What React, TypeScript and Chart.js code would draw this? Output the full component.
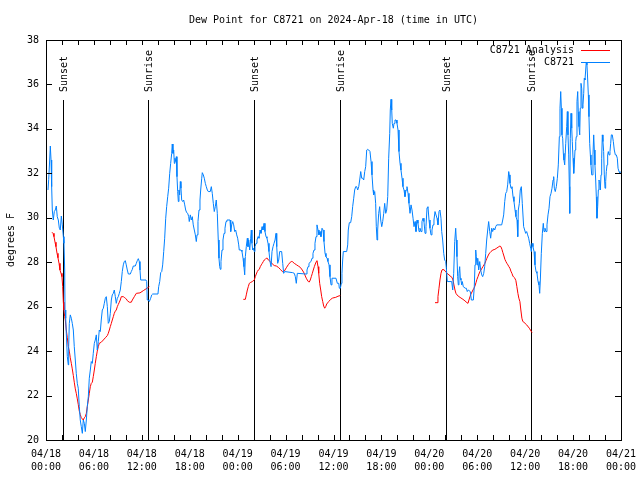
import React, { useEffect, useRef } from "react";
import { Chart, registerables } from "chart.js";

Chart.register(...registerables);

const FONT = '"DejaVu Sans Mono", "Liberation Mono", monospace';

const chartTitle = "Dew Point for C8721 on 2024-Apr-18 (time in UTC)";
const yAxisTitle = "degrees F";
const stationName = "C8721";
const analysisName = "C8721 Analysis";

// x tick labels (every 6 hours from 04/18 00:00 UTC)
const xTickDates = ["04/18", "04/18", "04/18", "04/18", "04/19", "04/19", "04/19", "04/19", "04/20", "04/20", "04/20", "04/20", "04/21"];
const xTickTimes = ["00:00", "06:00", "12:00", "18:00", "00:00", "06:00", "12:00", "18:00", "00:00", "06:00", "12:00", "18:00", "00:00"];

// sunset / sunrise times (hours since 04/18 00:00 UTC)
const sunEvents: [string, number][] = [
  ["Sunset", 2.17],
  ["Sunrise", 12.81],
  ["Sunset", 26.09],
  ["Sunrise", 36.85],
  ["Sunset", 50.13],
  ["Sunrise", 60.77],
];

// station observations: [hours since 04/18 00:00 UTC, dew point °F]
const stationObs: [number, number][] = [
  [0.25, 31.25], [0.34, 31.73], [0.46, 32.6], [0.54, 33.23], [0.63, 32.6], [0.71, 31.4], [0.79, 30.35], [0.91, 29.9],
  [1.04, 30.28], [1.16, 30.35], [1.29, 30.53], [1.41, 30.05], [1.54, 29.9], [1.67, 29.53], [1.79, 29.45], [1.92, 30.08],
  [2.04, 29.68], [2.17, 29.15], [2.25, 28.85], [2.34, 27.65], [2.38, 25.85], [2.47, 25.48], [2.54, 24.8], [2.67, 23.75],
  [2.79, 23.38], [2.84, 24.2], [2.92, 25.25], [3.04, 25.63], [3.17, 25.48], [3.29, 25.25], [3.42, 24.95], [3.54, 24.2],
  [3.67, 23.6], [3.79, 23.0], [3.92, 22.55], [4.04, 22.33], [4.17, 21.5], [4.29, 20.9], [4.42, 20.6], [4.55, 20.3],
  [4.67, 20.9], [4.8, 20.75], [4.92, 20.38], [5.05, 20.9], [5.17, 21.5], [5.3, 21.95], [5.42, 22.78], [5.55, 23.15],
  [5.67, 23.53], [5.8, 23.45], [5.92, 23.9], [6.05, 24.35], [6.17, 24.5], [6.3, 24.73], [6.42, 24.05], [6.55, 24.43],
  [6.67, 24.95], [6.8, 24.88], [6.92, 25.4], [7.05, 25.85], [7.18, 25.93], [7.3, 26.15], [7.43, 26.38], [7.55, 26.45],
  [7.68, 26.0], [7.8, 25.25], [7.93, 25.33], [8.05, 25.7], [8.18, 26.3], [8.3, 26.53], [8.43, 26.6], [8.55, 26.75],
  [8.68, 26.45], [8.8, 26.15], [8.93, 26.38], [9.05, 26.45], [9.18, 26.6], [9.3, 26.75], [9.43, 27.13], [9.55, 27.58],
  [9.68, 27.88], [9.8, 28.03], [9.93, 28.07], [10.05, 27.88], [10.18, 27.65], [10.31, 27.47], [10.56, 27.47], [10.68, 27.58],
  [10.81, 27.68], [10.93, 27.83], [11.18, 27.83], [11.31, 27.95], [11.43, 28.07], [11.56, 28.16], [11.68, 28.03], [11.77, 27.65],
  [11.86, 27.2], [12.52, 27.2], [12.61, 27.13], [12.68, 26.3], [12.81, 26.3], [12.94, 26.23], [13.11, 26.38], [13.24, 26.53],
  [13.36, 26.57], [14.02, 26.57], [14.11, 26.9], [14.24, 27.13], [14.36, 27.53], [14.49, 27.58], [14.61, 27.88], [14.74, 28.48],
  [14.86, 29.08], [14.99, 29.98], [15.11, 30.5], [15.24, 30.95], [15.36, 31.33], [15.49, 32.0], [15.61, 32.45], [15.74, 32.9],
  [15.81, 33.32], [15.9, 32.9], [15.99, 33.05], [16.07, 32.45], [16.15, 32.68], [16.24, 32.53], [16.32, 32.75], [16.4, 31.85],
  [16.49, 31.18], [16.57, 30.73], [16.65, 31.25], [16.74, 31.03], [16.82, 31.63], [16.9, 31.33], [16.99, 30.8], [17.12, 30.73],
  [17.24, 30.8], [17.37, 30.58], [17.49, 30.35], [17.62, 30.23], [17.74, 30.2], [17.87, 30.05], [17.94, 29.83], [18.07, 30.13],
  [18.19, 29.9], [18.32, 30.05], [18.44, 29.68], [18.57, 29.45], [18.7, 29.23], [18.82, 28.93], [18.91, 29.23], [19.03, 29.83],
  [19.16, 30.35], [19.28, 30.8], [19.37, 31.25], [19.5, 31.78], [19.57, 32.03], [19.7, 31.93], [19.82, 31.78], [19.95, 31.55],
  [20.07, 31.4], [20.2, 31.25], [20.32, 31.18], [20.57, 31.18], [20.7, 31.4], [20.82, 31.1], [20.95, 30.65], [21.07, 30.28],
  [21.2, 30.5], [21.32, 30.8], [21.45, 30.2], [21.57, 29.0], [21.66, 28.18], [21.75, 27.8], [21.83, 27.68], [21.91, 28.03],
  [22.04, 28.55], [22.16, 29.0], [22.29, 29.3], [22.41, 29.53], [22.54, 29.83], [22.66, 29.9], [23.04, 29.9], [23.13, 29.38],
  [23.25, 29.68], [23.38, 29.83], [23.5, 29.68], [23.63, 29.38], [23.75, 29.45], [23.88, 29.23], [24.0, 29.08], [24.13, 28.78],
  [24.2, 28.55], [24.29, 28.55], [24.42, 28.55], [24.54, 28.48], [24.67, 28.18], [24.79, 27.8], [24.88, 27.43], [24.96, 28.25],
  [25.08, 28.7], [25.21, 29.08], [25.29, 28.7], [25.38, 29.0], [25.51, 28.55], [25.63, 29.08], [25.71, 29.45], [25.79, 28.85],
  [25.88, 28.55], [25.96, 28.63], [26.08, 28.48], [26.17, 28.7], [26.3, 28.85], [26.42, 29.0], [26.55, 29.15], [26.67, 29.08],
  [26.8, 29.45], [26.92, 29.3], [27.05, 29.6], [27.17, 29.45], [27.3, 29.75], [27.42, 29.38], [27.55, 29.15], [27.67, 29.08],
  [27.8, 28.85], [27.92, 28.48], [28.05, 28.03], [28.18, 27.8], [28.3, 28.48], [28.43, 28.7], [28.55, 28.85], [28.68, 29.0],
  [28.8, 29.3], [28.89, 28.7], [29.01, 27.95], [29.14, 28.1], [29.26, 28.48], [29.51, 28.48], [29.64, 27.95], [29.76, 27.5],
  [29.89, 27.58], [30.89, 27.53], [31.09, 27.5], [31.22, 27.35], [31.34, 27.05], [31.47, 27.5], [32.56, 27.47], [32.68, 27.65],
  [32.81, 27.8], [32.93, 27.95], [33.18, 28.03], [33.31, 28.18], [33.43, 28.4], [33.56, 28.55], [33.68, 28.85], [33.81, 29.15],
  [33.93, 29.68], [34.06, 29.45], [34.18, 29.23], [34.31, 29.38], [34.43, 29.15], [34.56, 29.53], [34.69, 29.45], [34.81, 28.93],
  [34.94, 28.4], [35.06, 28.25], [35.19, 28.18], [35.31, 28.03], [35.44, 27.88], [35.56, 27.35], [35.69, 26.98], [35.81, 27.28],
  [36.31, 27.28], [36.48, 27.05], [36.66, 27.05], [36.73, 26.83], [36.86, 26.83], [36.98, 27.05], [37.06, 27.5], [37.15, 28.1],
  [37.23, 28.48], [37.65, 28.48], [37.78, 28.78], [37.85, 29.45], [37.98, 29.78], [38.15, 29.78], [38.28, 30.05], [38.4, 30.5],
  [38.53, 30.88], [38.65, 31.25], [38.78, 31.4], [38.9, 31.4], [39.03, 31.25], [39.16, 31.4], [39.28, 31.7], [39.41, 32.08],
  [39.53, 31.78], [39.66, 31.78], [39.78, 31.7], [39.91, 32.08], [40.03, 32.3], [40.16, 33.05], [40.28, 33.08], [40.41, 33.05],
  [40.57, 32.98], [40.7, 32.53], [40.82, 31.93], [40.95, 31.25], [41.03, 31.03], [41.16, 31.18], [41.28, 30.65], [41.36, 29.6],
  [41.45, 29.0], [41.53, 29.45], [41.66, 30.2], [41.78, 30.5], [41.91, 29.9], [42.04, 29.6], [42.16, 29.83], [42.29, 30.2],
  [42.41, 30.65], [42.54, 30.2], [42.66, 30.35], [42.79, 30.95], [42.91, 32.68], [43.04, 33.8], [43.11, 34.85], [43.2, 35.33],
  [43.29, 34.85], [43.36, 34.25], [43.49, 34.03], [43.58, 34.25], [43.7, 34.4], [43.83, 34.4], [43.95, 34.25], [44.08, 33.95],
  [44.2, 32.98], [44.33, 32.45], [44.45, 32.15], [44.58, 31.78], [44.7, 31.4], [44.83, 31.25], [44.95, 30.95], [45.08, 31.25],
  [45.2, 31.4], [45.33, 31.1], [45.45, 30.65], [45.58, 30.2], [45.71, 30.58], [45.83, 30.35], [45.96, 29.98], [46.08, 29.6],
  [46.21, 29.83], [46.33, 29.38], [46.46, 29.9], [46.58, 29.75], [46.71, 29.38], [46.83, 29.53], [46.96, 29.38], [47.08, 29.83],
  [47.21, 29.98], [47.33, 29.83], [47.46, 29.3], [47.58, 29.6], [47.71, 30.45], [47.83, 30.5], [47.96, 29.9], [48.08, 29.53],
  [48.21, 29.23], [48.33, 29.45], [48.46, 29.68], [48.58, 29.9], [48.71, 30.28], [48.83, 30.28], [48.96, 29.98], [49.08, 29.68],
  [49.21, 30.28], [49.33, 30.35], [49.46, 29.98], [49.55, 29.38], [49.67, 29.0], [49.8, 28.4], [49.92, 28.1], [50.05, 28.03],
  [50.13, 27.73], [50.25, 27.13], [50.8, 27.13], [50.93, 26.75], [51.05, 27.5], [51.18, 28.93], [51.3, 29.53], [51.38, 29.0],
  [51.46, 28.25], [51.55, 27.35], [51.63, 26.98], [51.71, 27.5], [51.8, 27.8], [51.88, 27.28], [51.96, 27.2], [52.05, 26.98],
  [52.13, 27.13], [52.25, 26.9], [52.5, 26.83], [52.63, 26.83], [52.75, 26.68], [52.88, 26.75], [53.13, 26.68], [53.26, 26.3],
  [53.51, 26.3], [53.63, 26.9], [53.72, 27.88], [53.81, 28.55], [53.88, 28.25], [53.97, 27.88], [54.06, 28.18], [54.18, 27.65],
  [54.31, 28.03], [54.43, 27.65], [54.56, 27.43], [54.68, 27.35], [54.81, 27.5], [54.93, 27.8], [55.06, 28.4], [55.18, 29.0],
  [55.31, 29.45], [55.43, 29.83], [55.56, 29.38], [55.68, 29.08], [55.81, 29.53], [55.93, 29.38], [56.06, 29.53], [56.19, 29.45],
  [56.31, 29.6], [56.44, 29.68], [57.06, 29.68], [57.19, 29.9], [57.31, 30.13], [57.44, 30.73], [57.56, 31.1], [57.69, 31.18],
  [57.81, 31.48], [57.94, 32.08], [58.01, 31.93], [58.1, 31.55], [58.23, 31.33], [58.35, 31.4], [58.48, 30.95], [58.6, 30.73],
  [58.73, 30.35], [58.85, 30.05], [58.98, 29.9], [59.07, 29.15], [59.14, 30.35], [59.27, 30.65], [59.39, 31.25], [59.52, 31.4],
  [59.64, 30.65], [59.81, 29.6], [59.94, 29.45], [60.06, 29.3], [60.19, 29.38], [60.31, 29.23], [60.44, 29.08], [60.56, 28.85],
  [60.69, 28.63], [60.77, 28.48], [60.86, 28.85], [60.98, 28.7], [61.11, 28.48], [61.23, 27.88], [61.36, 27.58], [61.48, 27.5],
  [61.61, 27.13], [61.73, 26.98], [61.82, 26.6], [61.9, 27.2], [62.02, 28.4], [62.15, 29.3], [62.27, 29.75], [62.36, 29.38],
  [62.48, 29.53], [62.61, 29.38], [62.73, 29.68], [62.86, 30.13], [62.99, 30.43], [63.11, 30.95], [63.24, 31.1], [63.36, 31.33],
  [63.49, 31.7], [63.57, 31.85], [63.65, 31.33], [63.77, 31.18], [63.9, 31.4], [64.03, 31.78], [64.15, 32.38], [64.28, 33.65],
  [64.36, 34.93], [64.45, 35.68], [64.53, 34.93], [64.61, 33.73], [64.7, 33.58], [64.78, 32.9], [64.86, 32.6], [64.95, 32.38],
  [65.08, 33.35], [65.2, 34.1], [65.28, 34.78], [65.36, 33.73], [65.45, 32.83], [65.53, 31.4], [65.58, 30.2], [65.65, 33.58],
  [65.74, 34.7], [65.83, 34.03], [65.9, 33.43], [65.99, 32.68], [66.08, 32.0], [66.15, 32.38], [66.24, 33.05], [66.33, 33.43],
  [66.4, 33.65], [66.49, 35.23], [66.58, 35.68], [66.65, 34.78], [66.74, 34.1], [66.83, 33.73], [66.9, 34.93], [66.99, 36.05],
  [67.08, 35.83], [67.15, 34.93], [67.24, 35.08], [67.33, 35.6], [67.4, 36.28], [67.49, 36.2], [67.58, 36.65], [67.65, 37.0],
  [67.74, 36.88], [67.83, 36.2], [67.91, 35.53], [67.99, 34.55], [68.08, 33.35], [68.16, 32.83], [68.24, 32.38], [68.33, 31.93],
  [68.41, 31.93], [68.49, 32.83], [68.58, 33.73], [68.66, 33.05], [68.74, 32.38], [68.83, 31.7], [68.91, 30.95], [68.99, 29.98],
  [69.08, 30.5], [69.16, 31.25], [69.24, 31.7], [69.33, 31.63], [69.41, 31.25], [69.5, 31.93], [69.58, 32.68], [69.66, 33.73],
  [69.74, 33.43], [69.83, 32.98], [69.91, 31.93], [70.0, 31.33], [70.08, 31.63], [70.16, 32.08], [70.25, 32.38], [70.33, 32.83],
  [70.41, 32.98], [70.5, 32.83], [70.62, 32.98], [70.71, 33.35], [70.79, 33.73], [70.91, 33.73], [71.04, 33.43], [71.16, 33.05],
  [71.29, 32.83], [71.41, 32.83], [71.54, 32.68], [71.63, 32.23], [71.75, 32.08], [71.87, 32.0],
];

// analysis, night 1
const analysisNight1: [number, number][] = [
  [0.75, 29.35], [0.88, 29.3], [1.0, 29.15], [1.13, 28.9], [1.25, 28.7], [1.38, 28.4], [1.5, 28.2], [1.63, 27.95],
  [1.75, 27.65], [1.88, 27.5], [2.0, 27.35], [2.09, 26.9], [2.17, 26.2], [2.25, 25.85], [2.34, 25.55], [2.42, 25.4],
  [2.54, 24.95], [2.67, 24.6], [2.79, 24.2], [2.92, 24.0], [3.04, 23.7], [3.17, 23.45], [3.29, 23.2], [3.42, 22.9],
  [3.54, 22.6], [3.67, 22.3], [3.79, 22.1], [3.92, 21.85], [4.04, 21.6], [4.17, 21.3], [4.29, 21.15], [4.42, 21.0],
  [4.55, 20.95], [4.67, 20.9], [4.8, 21.0], [4.92, 21.05], [5.05, 21.2], [5.17, 21.5], [5.3, 21.8], [5.42, 22.1],
  [5.55, 22.4], [5.67, 22.55], [5.8, 22.6], [5.92, 22.85], [6.05, 23.15], [6.17, 23.45], [6.3, 23.75], [6.42, 24.0],
  [6.55, 24.2], [6.67, 24.35], [6.92, 24.4], [7.18, 24.5], [7.43, 24.6], [7.68, 24.7], [7.8, 24.8], [7.93, 24.95],
  [8.05, 25.1], [8.18, 25.25], [8.3, 25.4], [8.43, 25.55], [8.55, 25.7], [8.68, 25.8], [8.8, 25.85], [8.93, 26.0],
  [9.05, 26.1], [9.18, 26.2], [9.3, 26.3], [9.43, 26.45], [9.68, 26.45], [9.8, 26.42], [9.93, 26.38], [10.05, 26.35],
  [10.18, 26.27], [10.43, 26.2], [10.68, 26.2], [10.81, 26.3], [11.06, 26.45], [11.31, 26.6], [11.77, 26.62], [12.18, 26.72],
  [12.52, 26.8], [12.94, 26.9],
];

// analysis, night 2
const analysisNight2: [number, number][] = [
  [24.71, 26.33], [24.96, 26.33], [25.08, 26.53], [25.21, 26.75], [25.33, 26.9], [25.46, 27.05], [25.58, 27.08], [25.83, 27.13],
  [26.08, 27.2], [26.21, 27.35], [26.33, 27.47], [26.46, 27.58], [26.58, 27.65], [26.71, 27.68], [26.83, 27.8], [26.96, 27.88],
  [27.08, 27.95], [27.21, 28.03], [27.33, 28.1], [27.46, 28.13], [27.58, 28.18], [27.71, 28.18], [27.84, 28.1], [28.09, 28.03],
  [28.34, 27.92], [28.59, 27.85], [28.84, 27.83], [29.09, 27.77], [29.34, 27.68], [29.59, 27.58], [29.71, 27.56], [29.84, 27.6],
  [30.09, 27.75], [30.34, 27.89], [30.59, 28.0], [30.71, 28.03], [30.84, 28.03], [31.09, 27.95], [31.34, 27.89], [31.59, 27.83],
  [31.84, 27.77], [32.09, 27.65], [32.34, 27.5], [32.47, 27.38], [32.59, 27.28], [32.72, 27.2], [32.84, 27.13], [32.97, 27.11],
  [33.09, 27.2], [33.22, 27.35], [33.35, 27.5], [33.47, 27.65], [33.6, 27.8], [33.72, 27.92], [33.85, 28.03], [33.93, 28.07],
  [34.06, 27.8], [34.15, 27.5], [34.27, 27.05], [34.4, 26.75], [34.52, 26.45], [34.65, 26.23], [34.77, 26.03], [34.9, 25.93],
  [35.02, 26.0], [35.15, 26.12], [35.4, 26.23], [35.65, 26.33], [35.9, 26.39], [36.28, 26.42], [36.56, 26.47], [36.85, 26.5],
];

// analysis, night 3
const analysisNight3: [number, number][] = [
  [48.71, 26.18], [48.96, 26.18], [49.08, 26.45], [49.21, 26.83], [49.33, 27.2], [49.46, 27.5], [49.58, 27.65], [49.71, 27.68],
  [49.96, 27.62], [50.21, 27.5], [50.46, 27.43], [50.71, 27.35], [50.83, 27.32], [50.96, 27.2], [51.08, 26.98], [51.21, 26.75],
  [51.33, 26.6], [51.46, 26.53], [51.71, 26.45], [51.96, 26.39], [52.21, 26.33], [52.46, 26.26], [52.71, 26.18], [52.84, 26.15],
  [52.96, 26.3], [53.09, 26.45], [53.21, 26.57], [53.34, 26.66], [53.46, 26.75], [53.59, 26.83], [53.71, 26.93], [53.84, 27.08],
  [53.96, 27.23], [54.09, 27.35], [54.21, 27.47], [54.34, 27.58], [54.46, 27.65], [54.59, 27.73], [54.71, 27.8], [54.84, 27.88],
  [54.96, 27.95], [55.09, 28.07], [55.21, 28.18], [55.34, 28.28], [55.46, 28.37], [55.59, 28.43], [55.71, 28.48], [55.96, 28.55],
  [56.21, 28.58], [56.46, 28.64], [56.71, 28.7], [56.84, 28.73], [56.96, 28.7], [57.09, 28.58], [57.21, 28.43], [57.34, 28.28],
  [57.46, 28.13], [57.59, 28.03], [57.71, 27.95], [57.84, 27.88], [57.96, 27.8], [58.09, 27.73], [58.21, 27.6], [58.34, 27.5],
  [58.46, 27.38], [58.59, 27.32], [58.71, 27.28], [58.84, 27.17], [58.96, 26.9], [59.09, 26.6], [59.21, 26.38], [59.34, 26.23],
  [59.46, 25.85], [59.59, 25.48], [59.71, 25.33], [59.84, 25.3], [60.19, 25.18], [60.52, 25.03], [60.86, 24.83],
];

const STATION_COLOR = "rgb(0,128,255)";
const ANALYSIS_COLOR = "rgb(255,0,0)";

const toPoints = (arr: [number, number][]) => arr.map(([h, v]) => ({ x: h, y: v as number | null }));

const decorations = {
  id: "gnuplotDecorations",
  beforeDatasetsDraw(chart: any) {
    const { ctx, chartArea: a, scales } = chart;
    const x = scales.x;
    ctx.save();
    ctx.strokeStyle = "#000";
    ctx.fillStyle = "#000";
    ctx.lineWidth = 1;
    ctx.font = `10px ${FONT}`;
    const lineTop = a.bottom - 0.85 * (a.bottom - a.top);
    const labelStart = a.bottom - 0.87 * (a.bottom - a.top);
    sunEvents.forEach(([label, h]) => {
      const px = Math.round(x.getPixelForValue(h)) + 0.5;
      ctx.beginPath();
      ctx.moveTo(px, a.bottom);
      ctx.lineTo(px, Math.round(lineTop));
      ctx.stroke();
      ctx.save();
      ctx.translate(px + 1, labelStart);
      ctx.rotate(-Math.PI / 2);
      ctx.textAlign = "left";
      ctx.textBaseline = "middle";
      ctx.fillText(label, 0, 0);
      ctx.restore();
    });
    ctx.restore();
  },
  afterDraw(chart: any) {
    const { ctx, chartArea: a, scales } = chart;
    const x = scales.x;
    const y = scales.y;
    ctx.save();
    ctx.strokeStyle = "#000";
    ctx.lineWidth = 1;
    // frame
    ctx.strokeRect(a.left + 0.5, a.top + 0.5, a.right - a.left, a.bottom - a.top);
    // x ticks every 2 h, mirrored; y ticks every 2 degrees, mirrored
    ctx.beginPath();
    for (let h = 0; h <= 72; h += 2) {
      const px = Math.round(x.getPixelForValue(h)) + 0.5;
      ctx.moveTo(px, a.bottom);
      ctx.lineTo(px, a.bottom - 5);
      ctx.moveTo(px, a.top);
      ctx.lineTo(px, a.top + 5);
    }
    for (let v = 20; v <= 38; v += 2) {
      const py = Math.round(y.getPixelForValue(v)) + 0.5;
      ctx.moveTo(a.left, py);
      ctx.lineTo(a.left + 6, py);
      ctx.moveTo(a.right, py);
      ctx.lineTo(a.right - 6, py);
    }
    ctx.stroke();
    // title
    ctx.fillStyle = "#000";
    ctx.font = `10px ${FONT}`;
    ctx.textAlign = "center";
    ctx.textBaseline = "middle";
    ctx.fillText(chartTitle, (a.left + a.right) / 2, 20);
    // legend
    const items: [string, string][] = [
      [analysisName, ANALYSIS_COLOR],
      [stationName, STATION_COLOR],
    ];
    items.forEach(([name, color], i) => {
      const ty = 50 + i * 12;
      ctx.textAlign = "right";
      ctx.fillStyle = "#000";
      ctx.fillText(name, a.right - 47, ty);
      ctx.strokeStyle = color;
      ctx.beginPath();
      ctx.moveTo(a.right - 40, Math.round(ty) + 0.5);
      ctx.lineTo(a.right - 11, Math.round(ty) + 0.5);
      ctx.stroke();
    });
    ctx.restore();
  },
};

export default function App() {
  const ref = useRef<HTMLCanvasElement | null>(null);

  useEffect(() => {
    const canvas = ref.current;
    if (!canvas) return;
    const analysisData = [
      ...toPoints(analysisNight1),
      { x: 18, y: null },
      ...toPoints(analysisNight2),
      { x: 42, y: null },
      ...toPoints(analysisNight3),
    ];
    const chart = new Chart(canvas, {
      type: "line",
      data: {
        datasets: [
          {
            label: stationName,
            data: toPoints(stationObs),
            borderColor: STATION_COLOR,
            backgroundColor: STATION_COLOR,
            borderWidth: 1,
            pointRadius: 0,
            tension: 0,
            order: 0,
          },
          {
            label: analysisName,
            data: analysisData,
            borderColor: ANALYSIS_COLOR,
            backgroundColor: ANALYSIS_COLOR,
            borderWidth: 1,
            pointRadius: 0,
            tension: 0,
            spanGaps: false,
            order: 1,
          },
        ],
      },
      options: {
        animation: false,
        responsive: false,
        devicePixelRatio: 1,
        layout: { padding: { top: 40, right: 19, bottom: 0, left: 0 } },
        plugins: {
          legend: { display: false },
          tooltip: { enabled: false },
          title: { display: false },
        },
        scales: {
          x: {
            type: "linear",
            position: "bottom",
            min: 0,
            max: 72,
            grid: { display: false, drawTicks: false },
            border: { display: false },
            ticks: {
              stepSize: 6,
              autoSkip: false,
              maxRotation: 0,
              minRotation: 0,
              padding: 8,
              color: "#000",
              font: { family: FONT, size: 10, lineHeight: 1.3 },
              callback: (_v: any, i: number) => [xTickDates[i], xTickTimes[i]],
            },
            afterFit: (scale: any) => {
              scale.height = 40;
              scale.paddingLeft = 0;
              scale.paddingRight = 0;
            },
          },
          y: {
            type: "linear",
            min: 20,
            max: 38,
            grid: { display: false, drawTicks: false },
            border: { display: false },
            ticks: {
              stepSize: 2,
              padding: 7,
              color: "#000",
              font: { family: FONT, size: 10 },
            },
            title: {
              display: true,
              text: yAxisTitle,
              color: "#000",
              font: { family: FONT, size: 10 },
              padding: { top: 5, bottom: 0 },
            },
            afterFit: (scale: any) => {
              scale.width = 46;
              scale.paddingTop = 0;
              scale.paddingBottom = 0;
            },
          },
        },
      },
      plugins: [decorations],
    });
    return () => chart.destroy();
  }, []);

  return (
    <div style={{ position: "fixed", left: 0, top: 0, width: 640, height: 480, background: "#fff" }}>
      <canvas ref={ref} width={640} height={480} style={{ display: "block", width: 640, height: 480 }} />
    </div>
  );
}
